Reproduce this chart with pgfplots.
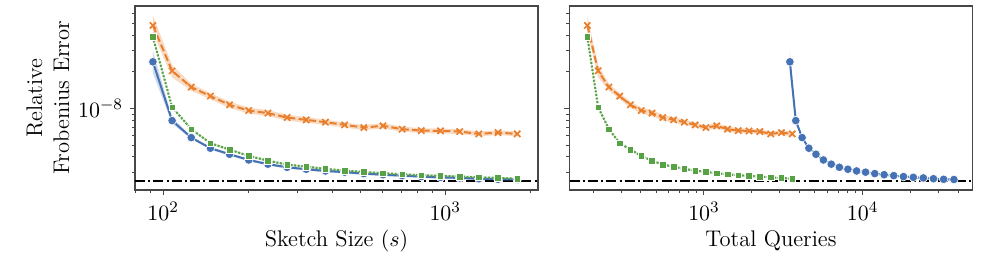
\documentclass[border=0pt]{standalone}
\usepackage{pgfplots}
\usepackage{pgfplotstable}
\pgfplotsset{compat=1.18}
\definecolor{cblue}{HTML}{4472B4}
\definecolor{corange}{HTML}{E97F2C}
\definecolor{cgreen}{HTML}{58A246}
\pgfplotstableread{
s      q2     qb     b        o        g
92     184    3480   2.42e-8  4.82e-8  3.87e-8
107.6  215.2  3792   7.96e-9  2.04e-8  1.027e-8
125.8  251.6  4156   5.77e-9  1.50e-8  6.77e-9
147.1  294.2  4582   4.72e-9  1.265e-8 5.19e-9
172.0  344    5080   4.21e-9  1.073e-8 4.60e-9
201.1  402.2  5662   3.78e-9  9.63e-9  4.08e-9
235.2  470.4  6344   3.49e-9  9.17e-9  3.73e-9
275.1  550.2  7142   3.29e-9  8.43e-9  3.46e-9
321.7  643.4  8074   3.17e-9  8.07e-9  3.33e-9
376.2  752.4  9164   3.07e-9  7.73e-9  3.19e-9
439.9  879.8  10438  3.00e-9  7.34e-9  3.09e-9
514.4  1028.8 11928  2.92e-9  6.98e-9  3.01e-9
601.6  1203.2 13672  2.86e-9  7.21e-9  2.94e-9
703.5  1407   15710  2.81e-9  6.77e-9  2.88e-9
822.7  1645.4 18094  2.76e-9  6.59e-9  2.83e-9
962.1  1924.2 20882  2.72e-9  6.55e-9  2.79e-9
1125   2250   24140  2.69e-9  6.47e-9  2.76e-9
1316   2632   27960  2.65e-9  6.19e-9  2.72e-9
1539   3078   32420  2.62e-9  6.34e-9  2.69e-9
1800   3600   37640  2.61e-9  6.19e-9  2.65e-9
}\datatab
% confidence bands as closed polygons: upper edge forward, lower edge backward
\pgfplotstableread{
s      q2     qb     yb       yo       yg
92     184    3480   3.00e-8  5.80e-8  4.02e-8
107.6  215.2  3792   8.45e-9  2.28e-8  1.048e-8
125.8  251.6  4156   5.91e-9  1.60e-8  6.91e-9
147.1  294.2  4582   4.84e-9  1.34e-8  5.29e-9
172.0  344    5080   4.32e-9  1.14e-8  4.69e-9
201.1  402.2  5662   3.87e-9  1.02e-8  4.16e-9
235.2  470.4  6344   3.58e-9  9.70e-9  3.80e-9
275.1  550.2  7142   3.37e-9  8.90e-9  3.53e-9
321.7  643.4  8074   3.25e-9  8.50e-9  3.40e-9
376.2  752.4  9164   3.15e-9  8.10e-9  3.25e-9
439.9  879.8  10438  3.07e-9  7.70e-9  3.15e-9
514.4  1028.8 11928  2.99e-9  7.32e-9  3.07e-9
601.6  1203.2 13672  2.93e-9  7.60e-9  3.00e-9
703.5  1407   15710  2.88e-9  7.10e-9  2.94e-9
822.7  1645.4 18094  2.83e-9  6.90e-9  2.89e-9
962.1  1924.2 20882  2.79e-9  6.85e-9  2.85e-9
1125   2250   24140  2.76e-9  6.78e-9  2.82e-9
1316   2632   27960  2.72e-9  6.47e-9  2.77e-9
1539   3078   32420  2.69e-9  6.63e-9  2.74e-9
1800   3600   37640  2.68e-9  6.47e-9  2.70e-9
1800   3600   37640  2.54e-9  5.92e-9  2.60e-9
1539   3078   32420  2.55e-9  6.06e-9  2.64e-9
1316   2632   27960  2.58e-9  5.92e-9  2.67e-9
1125   2250   24140  2.62e-9  6.17e-9  2.70e-9
962.1  1924.2 20882  2.65e-9  6.25e-9  2.73e-9
822.7  1645.4 18094  2.69e-9  6.28e-9  2.77e-9
703.5  1407   15710  2.74e-9  6.45e-9  2.82e-9
601.6  1203.2 13672  2.79e-9  6.85e-9  2.88e-9
514.4  1028.8 11928  2.85e-9  6.65e-9  2.95e-9
439.9  879.8  10438  2.93e-9  6.98e-9  3.03e-9
376.2  752.4  9164   2.99e-9  7.35e-9  3.13e-9
321.7  643.4  8074   3.09e-9  7.65e-9  3.26e-9
275.1  550.2  7142   3.21e-9  7.95e-9  3.39e-9
235.2  470.4  6344   3.40e-9  8.65e-9  3.66e-9
201.1  402.2  5662   3.69e-9  9.10e-9  4.00e-9
172.0  344    5080   4.10e-9  1.01e-8  4.51e-9
147.1  294.2  4582   4.60e-9  1.19e-8  5.09e-9
125.8  251.6  4156   5.63e-9  1.40e-8  6.63e-9
107.6  215.2  3792   7.50e-9  1.80e-8  1.006e-8
92     184    3480   1.95e-8  4.20e-8  3.72e-8
}\bandtab
\tikzset{
  bluel/.style={cblue, line width=1pt, mark=*, mark size=2.15pt,
    mark options={draw=white, line width=0.3pt, fill=cblue, solid}},
  orangel/.style={corange, line width=1pt, dash pattern=on 3.6pt off 1.6pt, mark=x, mark size=2.2pt,
    mark options={solid, line width=0.85pt}},
  greenl/.style={cgreen, line width=1.05pt, dash pattern=on 1pt off 0.8pt, mark=square*, mark size=1.65pt,
    mark options={draw=white, line width=0.3pt, fill=cgreen, solid}},
  refl/.style={black, line width=0.95pt, dash pattern=on 5pt off 1.6pt on 1pt off 1.6pt},
}
\begin{document}
\begin{tikzpicture}
\path[use as bounding box] (0,0) rectangle (500pt,126.5pt);
\begin{axis}[at={(67.5pt,31.5pt)}, anchor=south west,
  scale only axis, width=201.5pt, height=92.15pt,
  xmode=log, ymode=log, ymin=2.14e-9, ymax=7e-8,
  xmin=79.5, xmax=2133,
  xtick={100,1000},
  minor xtick={80,90,200,300,400,500,600,700,800,900,2000},
  ytick={1e-8},
  minor ytick={3e-9,4e-9,5e-9,6e-9,7e-9,8e-9,9e-9,2e-8,3e-8,4e-8,5e-8,6e-8},
  axis line style={black!72, line width=0.8pt},
  tick align=outside, xtick pos=bottom, ytick pos=left,
  major tick length=2.6pt, minor tick length=1.6pt,
  every tick/.style={black!72, line width=0.5pt},
  tick label style={font=\fontsize{11.3}{13}\selectfont},
  label style={font=\fontsize{11.3}{13.5}\selectfont},
  xlabel style={at={(axis description cs:0.5,-0.308)}, anchor=base},
  xlabel={Sketch Size $(s)$},
  ylabel={Relative\\Frobenius Error},
  ylabel style={at={(axis description cs:-0.216,0.5)}, anchor=center, align=center},
]
\addplot[fill=cblue, fill opacity=0.25, draw=none, forget plot] table[x=s, y=yb] {\bandtab};
\addplot[fill=corange, fill opacity=0.28, draw=none, forget plot] table[x=s, y=yo] {\bandtab};
\addplot[fill=cgreen, fill opacity=0.25, draw=none, forget plot] table[x=s, y=yg] {\bandtab};
\addplot[refl] coordinates {(79.5,2.54e-9) (2133,2.54e-9)};
\addplot[bluel] table[x=s, y=b] {\datatab};
\addplot[orangel] table[x=s, y=o] {\datatab};
\addplot[greenl] table[x=s, y=g] {\datatab};
\end{axis}
\begin{axis}[at={(284.75pt,31.5pt)}, anchor=south west,
  scale only axis, width=201.5pt, height=92.15pt,
  xmode=log, ymode=log, ymin=2.14e-9, ymax=7e-8,
  xmin=142, xmax=49300,
  xtick={1000,10000},
  minor xtick={200,300,400,500,600,700,800,900,2000,3000,4000,5000,6000,7000,8000,9000,20000,30000,40000},
  ytick={1e-8}, yticklabels={},
  minor ytick={3e-9,4e-9,5e-9,6e-9,7e-9,8e-9,9e-9,2e-8,3e-8,4e-8,5e-8,6e-8},
  axis line style={black!72, line width=0.8pt},
  tick align=outside, xtick pos=bottom, ytick pos=left,
  major tick length=2.6pt, minor tick length=1.6pt,
  every tick/.style={black!72, line width=0.5pt},
  tick label style={font=\fontsize{11.3}{13}\selectfont},
  label style={font=\fontsize{11.3}{13.5}\selectfont},
  xlabel style={at={(axis description cs:0.5,-0.308)}, anchor=base},
  xlabel={Total Queries},
]
\addplot[fill=cblue, fill opacity=0.25, draw=none, forget plot] table[x=qb, y=yb] {\bandtab};
\addplot[fill=corange, fill opacity=0.28, draw=none, forget plot] table[x=q2, y=yo] {\bandtab};
\addplot[fill=cgreen, fill opacity=0.25, draw=none, forget plot] table[x=q2, y=yg] {\bandtab};
\addplot[refl] coordinates {(142,2.54e-9) (49300,2.54e-9)};
\addplot[bluel] table[x=qb, y=b] {\datatab};
\addplot[orangel] table[x=q2, y=o] {\datatab};
\addplot[greenl] table[x=q2, y=g] {\datatab};
\end{axis}
\end{tikzpicture}
\end{document}
